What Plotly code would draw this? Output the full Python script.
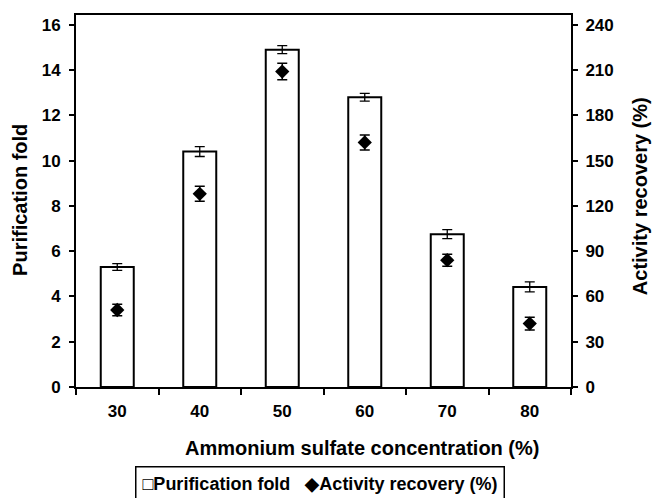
import plotly.graph_objects as go

categories = ["30", "40", "50", "60", "70", "80"]
purification_fold = [5.3, 10.4, 14.9, 12.8, 6.75, 4.42]
purification_err = [0.15, 0.22, 0.18, 0.17, 0.2, 0.22]
activity_recovery = [51, 128, 209, 162, 84, 42]
activity_err = [3.8, 5.0, 5.5, 5.0, 4.0, 4.2]

legend_labels = ["Purification fold", "Activity recovery (%)"]
x_title = "Ammonium sulfate concentration (%)"
y_title = "Purification fold"
y2_title = "Activity recovery (%)"

FONT = "Liberation Sans, Arial, sans-serif"

fig = go.Figure()
fig.add_trace(go.Bar(
    x=categories, y=purification_fold, name=legend_labels[0],
    width=0.4,
    marker=dict(color="white", line=dict(color="black", width=2)),
    error_y=dict(type="data", array=purification_err, color="black", thickness=1.3, width=5),
    showlegend=False,
))
fig.add_trace(go.Scatter(
    x=categories, y=activity_recovery, name=legend_labels[1], yaxis="y2",
    mode="markers",
    marker=dict(symbol="diamond", size=11, color="black"),
    error_y=dict(type="data", array=activity_err, color="black", thickness=1.5, width=5),
    showlegend=False,
))

tickfont = dict(family=FONT, size=17, color="black", weight="bold")
titlefont = dict(family=FONT, size=20, color="black", weight="bold")

# axis titles
fig.add_annotation(
    xref="paper", yref="paper", x=0.578, y=-0.164, xanchor="center", yanchor="middle",
    text=x_title, showarrow=False, font=titlefont,
)
fig.add_annotation(
    xref="paper", yref="paper", x=-0.1131, y=0.503, xanchor="center", yanchor="middle",
    text=y_title, textangle=-90, showarrow=False, font=titlefont,
)
fig.add_annotation(
    xref="paper", yref="paper", x=1.1394, y=0.513, xanchor="center", yanchor="middle",
    text=y2_title, textangle=-90, showarrow=False, font=titlefont,
)

# boxed legend
fig.add_annotation(
    xref="paper", yref="paper", x=0.493, y=-0.2124, xanchor="center", yanchor="top",
    text="\u25a1" + legend_labels[0] + "\u00a0\u00a0\u00a0\u25c6" + legend_labels[1],
    showarrow=False,
    font=dict(family=FONT, size=18, color="black", weight="bold"),
    bordercolor="black", borderwidth=1.5, borderpad=6, bgcolor="white",
)

fig.update_layout(
    width=652, height=498,
    margin=dict(l=76, r=81, t=15, b=111, autoexpand=False),
    plot_bgcolor="white", paper_bgcolor="white",
    showlegend=False,
    xaxis=dict(
        type="category", tickson="boundaries", automargin=False,
        showline=True, linecolor="black", linewidth=2, mirror=True,
        ticks="outside", ticklen=6, tickwidth=1.5, tickcolor="black",
        tickfont=tickfont, showgrid=False, ticklabelstandoff=8,
    ),
    yaxis=dict(
        range=[0, 16.43], tickvals=[0, 2, 4, 6, 8, 10, 12, 14, 16], automargin=False,
        showline=True, linecolor="black", linewidth=2,
        ticks="outside", ticklen=5, tickwidth=1.5, tickcolor="black",
        tickfont=tickfont, showgrid=False, zeroline=False, ticklabelstandoff=5,
    ),
    yaxis2=dict(
        range=[0, 246.45], tickvals=[0, 30, 60, 90, 120, 150, 180, 210, 240],
        overlaying="y", side="right", automargin=False,
        showline=True, linecolor="black", linewidth=2,
        ticks="outside", ticklen=5, tickwidth=1.5, tickcolor="black",
        tickfont=tickfont, showgrid=False, zeroline=False, ticklabelstandoff=4,
    ),
)

fig.write_html("out.html")
